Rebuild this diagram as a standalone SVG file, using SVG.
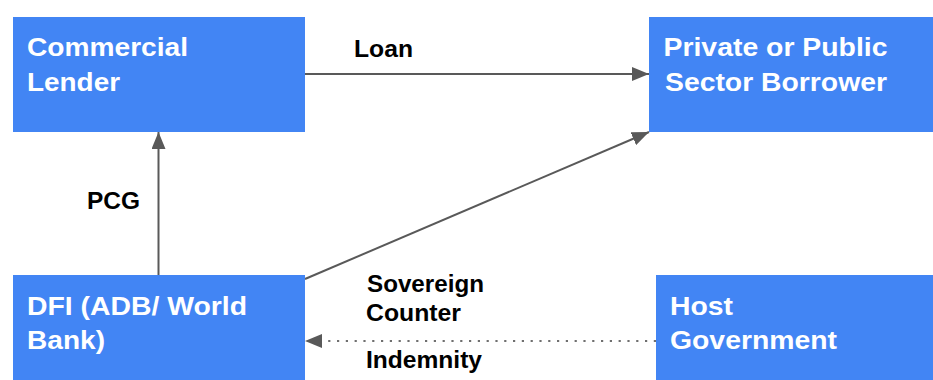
<svg xmlns="http://www.w3.org/2000/svg" width="933" height="380" viewBox="0 0 933 380">
<style>
.node{fill:#4285F4;}
.nt{font-family:"Liberation Sans",Arial,sans-serif;font-weight:bold;font-size:26px;fill:#ffffff;}
.lbl{font-family:"Liberation Sans",Arial,sans-serif;font-weight:bold;font-size:23px;fill:#000000;}
.edge{stroke:#595959;stroke-width:2;fill:none;}
.dot{stroke:#6f6f6f;stroke-width:2.2;fill:none;stroke-dasharray:2.2 6.6;}
</style>
<defs>
<marker id="ah" markerUnits="userSpaceOnUse" markerWidth="18" markerHeight="14" refX="17" refY="7" orient="auto">
<path d="M0,0 L17,7 L0,14 Z" fill="#595959"/>
</marker>
</defs>
<rect width="933" height="380" fill="#ffffff"/>
<g id="connectors">
<line class="edge" x1="305" y1="74" x2="649" y2="74" marker-end="url(#ah)"/>
<line class="edge" x1="158.5" y1="275" x2="158.5" y2="132" marker-end="url(#ah)"/>
<line class="edge" x1="305" y1="279" x2="649" y2="132" marker-end="url(#ah)"/>
<line class="dot" x1="656" y1="341" x2="322" y2="341"/>
<path d="M305,341 L322,334 L322,348 Z" fill="#595959"/>
<text class="lbl" x="354" y="56.5" textLength="59" lengthAdjust="spacingAndGlyphs">Loan</text>
<text class="lbl" x="87" y="209" textLength="53" lengthAdjust="spacingAndGlyphs">PCG</text>
<text class="lbl" x="367" y="292" textLength="117" lengthAdjust="spacingAndGlyphs">Sovereign</text>
<text class="lbl" x="366" y="321" textLength="95" lengthAdjust="spacingAndGlyphs">Counter</text>
<text class="lbl" x="366" y="368" textLength="116" lengthAdjust="spacingAndGlyphs">Indemnity</text>
</g>
<g id="commercial-lender">
<rect class="node" x="13" y="17" width="292" height="115"/>
<text class="nt" x="27" y="56" textLength="161" lengthAdjust="spacingAndGlyphs">Commercial</text>
<text class="nt" x="27" y="90.5" textLength="93" lengthAdjust="spacingAndGlyphs">Lender</text>
</g>
<g id="borrower">
<rect class="node" x="649" y="17" width="284" height="115"/>
<text class="nt" x="663.5" y="56" textLength="224" lengthAdjust="spacingAndGlyphs">Private or Public</text>
<text class="nt" x="665" y="90.5" textLength="222" lengthAdjust="spacingAndGlyphs">Sector Borrower</text>
</g>
<g id="dfi">
<rect class="node" x="13" y="275" width="292" height="110"/>
<text class="nt" x="27" y="314.5" textLength="220" lengthAdjust="spacingAndGlyphs">DFI (ADB/ World</text>
<text class="nt" x="27" y="348.5" textLength="78" lengthAdjust="spacingAndGlyphs">Bank)</text>
</g>
<g id="host-government">
<rect class="node" x="656" y="275" width="277" height="110"/>
<text class="nt" x="670" y="314.5" textLength="63" lengthAdjust="spacingAndGlyphs">Host</text>
<text class="nt" x="670" y="348.5" textLength="167" lengthAdjust="spacingAndGlyphs">Government</text>
</g>
</svg>
